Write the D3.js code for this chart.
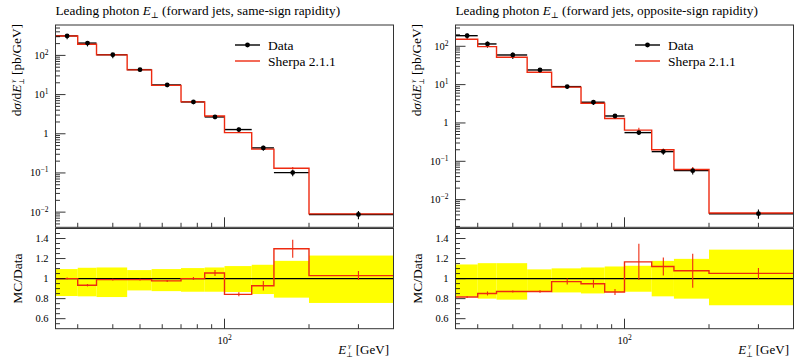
<!DOCTYPE html>
<html><head><meta charset="utf-8">
<script src="https://cdn.jsdelivr.net/npm/d3@7"></script>
<style>
body{margin:0;background:#fff}
svg{display:block}
text{font-family:"Liberation Serif","DejaVu Serif",serif;fill:#000}
</style>
</head><body><svg id="c" width="795" height="361"></svg>
<script>
// ---------------- data ----------------
const binEdges   = [25,30,35,45,55,70,85,100,125,150,200,400];
const binCentres = [27.5,32.5,40,50,62.5,77.5,92.5,112.5,137.5,175,300];

const titles = ["(forward jets, same-sign rapidity)", "(forward jets, opposite-sign rapidity)"];
const legendLabels = ["Data", "Sherpa 2.1.1"];

// same-sign rapidity panel
const dataSS      = [315, 206, 104, 43.3, 17.6, 6.5, 2.69, 1.28, 0.435, 0.102, 0.0087];
const mcSS        = [312, 192, 103, 42.8, 17.2, 6.5, 2.85, 1.07, 0.405, 0.132, 0.0090];
const ratioSS     = [1.00, 0.934, 0.99, 0.99, 0.977, 1.00, 1.056, 0.843, 0.928, 1.298, 1.03];
const ratioErrSS  = [0.01, 0.012, 0.008, 0.008, 0.01, 0.015, 0.03, 0.02, 0.048, 0.09, 0.045];
const bandHiSS    = [1.095, 1.108, 1.111, 1.085, 1.095, 1.105, 1.111, 1.125, 1.138, 1.177, 1.23];
const bandLoSS    = [0.826, 0.823, 0.816, 0.882, 0.875, 0.869, 0.869, 0.866, 0.846, 0.81, 0.757];

// opposite-sign rapidity panel
const dataOS      = [189, 115, 59.3, 24.1, 8.87, 3.47, 1.52, 0.56, 0.179, 0.057, 0.0043];
const mcOS        = [152, 98, 51.6, 21.0, 8.6, 3.27, 1.31, 0.65, 0.20, 0.061, 0.0045];
const ratioOS     = [0.816, 0.852, 0.872, 0.872, 0.97, 0.948, 0.866, 1.167, 1.121, 1.079, 1.052];
const ratioErrOS  = [0.01, 0.02, 0.01, 0.012, 0.03, 0.04, 0.03, 0.18, 0.09, 0.17, 0.055];
const bandHiOS    = [1.141, 1.154, 1.154, 1.092, 1.102, 1.111, 1.121, 1.128, 1.177, 1.197, 1.289];
const bandLoOS    = [0.82, 0.80, 0.79, 0.872, 0.862, 0.852, 0.866, 0.869, 0.823, 0.80, 0.734];

// axis ranges and ticks
const xDomain = [25, 400];
const yDomains = [[0.0041, 597], [0.0019, 359]];
const ratioDomain = [0.5, 1.5];
const xMajorTicks = [100];
const xMajorLabels = [["10","2"]];
const xMinorTicks = [30,40,50,60,70,80,90,200,300];
const yMajorTicks = [0.01, 0.1, 1, 10, 100];
const yMajorLabels = [["10","−2"],["10","−1"],["1",""],["10","1"],["10","2"]];
const ratioMajorTicks = [0.6, 0.8, 1.0, 1.2, 1.4];
const ratioLabels = ["0.6","0.8","1","1.2","1.4"];
const ratioMinorTicks = [0.55,0.65,0.7,0.75,0.85,0.9,0.95,1.05,1.1,1.15,1.25,1.3,1.35,1.45];

// ---------------- drawing ----------------
const RED = "#ee2a10";
const YELLOW = "#ffff00";
const svg = d3.select("#c");

const panels = [
  {off:0,   title:titles[0], data:dataSS, mc:mcSS, ratio:ratioSS, rerr:ratioErrSS, hi:bandHiSS, lo:bandLoSS, yd:yDomains[0]},
  {off:400, title:titles[1], data:dataOS, mc:mcOS, ratio:ratioOS, rerr:ratioErrOS, hi:bandHiOS, lo:bandLoOS, yd:yDomains[1]}
];

function yMinorTicks(dom){
  const out=[];
  for(let e=-4;e<=3;e++) for(let k=2;k<=9;k++){const v=k*Math.pow(10,e); if(v>dom[0]&&v<dom[1]) out.push(v);}
  return out;
}

panels.forEach((p,pi)=>{
  const g = svg.append("g").attr("transform",`translate(${p.off},0)`);
  const X0=55.5, X1=393.5, MT=25, MB=227.3, RT=228.5, RB=328.7;
  const x = d3.scaleLog().domain(xDomain).range([X0,X1]);
  const y = d3.scaleLog().domain(p.yd).range([MB,MT]);
  const yr = d3.scaleLinear().domain(ratioDomain).range([RB,RT]);
  const n = p.data.length;

  // ---- title
  const t = g.append("text").attr("x",X0).attr("y",15).attr("font-size",13.3);
  t.append("tspan").text("Leading photon ");
  t.append("tspan").attr("font-style","italic").text("E");
  t.append("tspan").attr("font-size",8.5).attr("dy",2.5).text("⊥");
  t.append("tspan").attr("dy",-2.5).text(" "+p.title);

  // ---- ratio band
  const rg = g.append("g");
  rg.selectAll("rect.band").data(d3.range(n)).join("rect")
    .attr("x",i=>x(binEdges[i])).attr("width",i=>x(binEdges[i+1])-x(binEdges[i]))
    .attr("y",i=>yr(p.hi[i])).attr("height",i=>yr(p.lo[i])-yr(p.hi[i]))
    .attr("fill",YELLOW);
  rg.append("line").attr("x1",X0).attr("x2",X1).attr("y1",yr(1)).attr("y2",yr(1))
    .attr("stroke","#000").attr("stroke-width",1.1);
  const stepPts = [];
  for(let i=0;i<n;i++){stepPts.push([binEdges[i],p.ratio[i]]);stepPts.push([binEdges[i+1],p.ratio[i]]);}
  rg.append("path").attr("d",d3.line().x(d=>x(d[0])).y(d=>yr(d[1]))(stepPts))
    .attr("fill","none").attr("stroke",RED).attr("stroke-width",1.4);
  rg.selectAll("line.rerr").data(d3.range(n)).join("line")
    .attr("x1",i=>x(binCentres[i])).attr("x2",i=>x(binCentres[i]))
    .attr("y1",i=>yr(p.ratio[i]-p.rerr[i])).attr("y2",i=>yr(p.ratio[i]+p.rerr[i]))
    .attr("stroke",RED).attr("stroke-width",1.1);

  // ---- main: data
  const mg = g.append("g");
  mg.selectAll("line.dh").data(d3.range(n)).join("line")
    .attr("x1",i=>x(binEdges[i])).attr("x2",i=>x(binEdges[i+1]))
    .attr("y1",i=>y(p.data[i])).attr("y2",i=>y(p.data[i]))
    .attr("stroke","#000").attr("stroke-width",1.4);
  mg.selectAll("line.dv").data(d3.range(n)).join("line")
    .attr("x1",i=>x(binCentres[i])).attr("x2",i=>x(binCentres[i]))
    .attr("y1",i=>y(p.data[i]*p.lo[i])).attr("y2",i=>y(p.data[i]*p.hi[i]))
    .attr("stroke","#000").attr("stroke-width",1.1);
  // MC
  const mcPts=[];
  for(let i=0;i<n;i++){mcPts.push([binEdges[i],p.mc[i]]);mcPts.push([binEdges[i+1],p.mc[i]]);}
  mg.append("path").attr("d",d3.line().x(d=>x(d[0])).y(d=>y(d[1]))(mcPts))
    .attr("fill","none").attr("stroke",RED).attr("stroke-width",1.4);
  mg.selectAll("line.mv").data(d3.range(n)).join("line")
    .attr("x1",i=>x(binCentres[i])).attr("x2",i=>x(binCentres[i]))
    .attr("y1",i=>y(p.mc[i]*(1-p.rerr[i]/p.ratio[i]))).attr("y2",i=>y(p.mc[i]*(1+p.rerr[i]/p.ratio[i])))
    .attr("stroke",RED).attr("stroke-width",1.1);
  mg.selectAll("circle").data(d3.range(n)).join("circle")
    .attr("cx",i=>x(binCentres[i])).attr("cy",i=>y(p.data[i])).attr("r",2.4).attr("fill","#000");

  // ---- ticks (inward)
  const tk = g.append("g").attr("stroke","#000").attr("stroke-width",0.8);
  const vt = (arr,sc,len,y0)=>arr.forEach(v=>tk.append("line").attr("x1",sc(v)).attr("x2",sc(v)).attr("y1",y0).attr("y2",y0-len));
  const ht = (arr,sc,len)=>arr.forEach(v=>tk.append("line").attr("y1",sc(v)).attr("y2",sc(v)).attr("x1",X0).attr("x2",X0+len));
  vt(xMajorTicks,x,10,MB); vt(xMinorTicks,x,4.5,MB);
  vt(xMajorTicks,x,10,RB); vt(xMinorTicks,x,4.5,RB);
  ht(yMajorTicks,y,10); ht(yMinorTicks(p.yd),y,4.5);
  ht(ratioMajorTicks,yr,10); ht(ratioMinorTicks,yr,4.5);

  // ---- frames
  g.append("rect").attr("x",X0).attr("y",MT).attr("width",X1-X0).attr("height",MB-MT)
    .attr("fill","none").attr("stroke","#333").attr("stroke-width",1);
  g.append("rect").attr("x",X0).attr("y",RT).attr("width",X1-X0).attr("height",RB-RT)
    .attr("fill","none").attr("stroke","#333").attr("stroke-width",1);

  // ---- tick labels
  yMajorTicks.forEach((v,i)=>{
    const tt=g.append("text").attr("x",48.5).attr("y",y(v)+3.5).attr("text-anchor","end").attr("font-size",10.5);
    tt.append("tspan").text(yMajorLabels[i][0]);
    if(yMajorLabels[i][1]) tt.append("tspan").attr("dy",-4).attr("font-size",7.5).text(yMajorLabels[i][1]);
  });
  ratioMajorTicks.forEach((v,i)=>{
    g.append("text").attr("x",48.5).attr("y",yr(v)+3.5).attr("text-anchor","end").attr("font-size",10.5).text(ratioLabels[i]);
  });
  xMajorTicks.forEach((v,i)=>{
    const tt=g.append("text").attr("x",x(v)).attr("y",344).attr("text-anchor","middle").attr("font-size",10.5);
    tt.append("tspan").text(xMajorLabels[i][0]);
    tt.append("tspan").attr("dy",-4).attr("font-size",7.5).text(xMajorLabels[i][1]);
  });

  // ---- axis titles
  const yl = g.append("text").attr("transform","translate(21,24) rotate(-90)").attr("text-anchor","end").attr("font-size",13.3);
  yl.append("tspan").text("d");
  yl.append("tspan").attr("font-style","italic").text("σ");
  yl.append("tspan").text("/d");
  yl.append("tspan").attr("font-style","italic").text("E");
  yl.append("tspan").attr("font-size",7).attr("dy",3).text("⊥");
  yl.append("tspan").attr("font-size",7).attr("font-style","italic").attr("dx",-4.5).attr("dy",-9.5).text("γ");
  yl.append("tspan").attr("dy",6.5).attr("dx",1.5).text(" [pb/GeV]");

  g.append("text").attr("transform",`translate(22,${yr(1)}) rotate(-90)`).attr("text-anchor","middle")
    .attr("font-size",13.5).text("MC/Data");

  const xl = g.append("text").attr("x",389).attr("y",354).attr("text-anchor","end").attr("font-size",13);
  xl.append("tspan").attr("font-style","italic").text("E");
  xl.append("tspan").attr("font-size",7).attr("dy",3).text("⊥");
  xl.append("tspan").attr("font-size",7).attr("font-style","italic").attr("dx",-4.5).attr("dy",-9.5).text("γ");
  xl.append("tspan").attr("dy",6.5).attr("dx",1.5).text(" [GeV]");

  // ---- legend
  const lg = g.append("g");
  lg.append("line").attr("x1",235).attr("x2",260).attr("y1",45).attr("y2",45).attr("stroke","#000").attr("stroke-width",1.4);
  lg.append("circle").attr("cx",247.5).attr("cy",45).attr("r",2.4).attr("fill","#000");
  lg.append("text").attr("x",268).attr("y",49.5).attr("font-size",13.5).text(legendLabels[0]);
  lg.append("line").attr("x1",235).attr("x2",260).attr("y1",61).attr("y2",61).attr("stroke",RED).attr("stroke-width",1.4);
  lg.append("text").attr("x",268).attr("y",65.5).attr("font-size",13.5).text(legendLabels[1]);
});
</script>
</body></html>
